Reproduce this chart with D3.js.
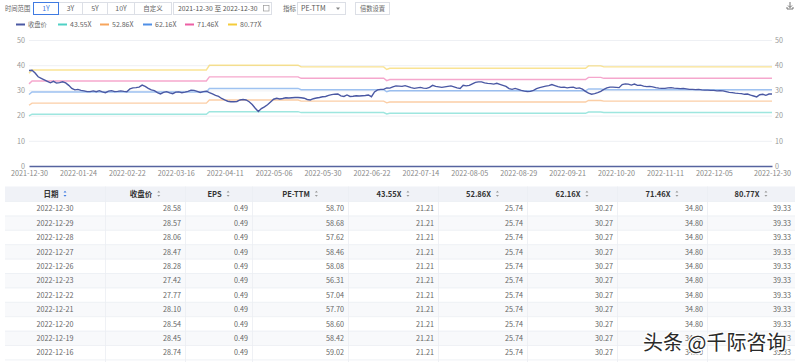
<!DOCTYPE html>
<html>
<head>
<meta charset="utf-8">
<script src="https://cdn.jsdelivr.net/npm/d3@7"></script>
<style>
  body { margin: 0; background: #fff; }
  text { font-family: "Noto Sans CJK SC", "Noto Sans", sans-serif; }
</style>
</head>
<body>
<svg id="chart" width="800" height="362"></svg>
<script>
// exchange holidays on weekdays, used to build the trading-day categories
var holidays = ["2022-01-03","2022-01-31","2022-02-01","2022-02-02","2022-02-03","2022-02-04",
  "2022-04-04","2022-04-05","2022-05-02","2022-05-03","2022-05-04","2022-06-03","2022-09-12",
  "2022-10-03","2022-10-04","2022-10-05","2022-10-06","2022-10-07"];

var xTicks = ["2021-12-30","2022-01-24","2022-02-22","2022-03-16","2022-04-11","2022-05-06",
  "2022-05-30","2022-06-22","2022-07-14","2022-08-05","2022-08-29","2022-09-21","2022-10-20",
  "2022-11-11","2022-12-05","2022-12-30"];
var yTicks = [0, 10, 20, 30, 40, 50];

// 收盘价, one per trading day
var closes = [
  37.9, 38.0, 36.9, 35.4, 34.8, 34.2, 33.6, 33.0, 33.6, 32.9,
  33.1, 33.4, 33.0, 32.0, 30.8, 30.2, 30.4, 30.0, 29.8, 29.5,
  29.5, 29.8, 29.5, 29.9, 29.4, 29.1, 29.7, 29.9, 29.5, 29.6,
  29.8, 29.6, 29.5, 30.6, 31.0, 31.1, 31.3, 32.1, 31.6, 30.8,
  30.2, 29.9, 29.1, 28.6, 29.2, 29.5, 29.0, 28.7, 29.3, 29.4,
  29.1, 29.3, 29.6, 30.1, 30.0, 29.6, 29.2, 29.5, 29.7, 29.1,
  28.6, 28.0, 27.6, 26.8, 26.2, 25.7, 25.5, 25.5, 25.6, 26.2,
  26.4, 26.2, 25.5, 24.4, 22.9, 21.6, 22.8, 23.5, 24.3, 25.4,
  26.5, 26.9, 26.6, 26.8, 27.1, 27.0, 27.1, 27.2, 27.2, 27.1,
  26.9, 26.4, 26.2, 26.7, 27.0, 27.2, 27.5, 27.6, 28.0, 28.3,
  28.5, 28.6, 27.8, 27.6, 28.2, 27.6, 27.7, 27.9, 27.8, 27.9,
  28.0, 28.2, 27.5, 29.4, 30.2, 30.4, 30.4, 31.0, 30.9, 31.4,
  31.8, 31.7, 31.6, 31.9, 31.5, 31.1, 30.8, 31.0, 31.2, 30.9,
  30.8, 31.2, 32.0, 31.6, 31.4, 31.2, 31.4, 31.6, 31.8, 31.4,
  31.0, 30.8, 32.0, 31.8, 32.0, 32.6, 33.2, 33.4, 33.4, 33.0,
  32.8, 32.7, 32.5, 32.8, 32.4, 32.0, 31.6, 30.7, 30.4, 30.8,
  30.4, 30.0, 29.7, 29.5, 29.6, 30.0, 30.7, 31.1, 31.4, 31.7,
  31.9, 32.3, 31.9, 31.5, 31.2, 31.3, 31.0, 31.2, 31.3, 30.8,
  31.0, 30.5, 29.6, 28.9, 28.5, 28.7, 29.1, 29.6, 30.4, 31.0,
  31.3, 31.3, 31.2, 31.1, 32.3, 32.6, 32.5, 32.1, 32.5, 32.0,
  32.1, 31.7, 31.5, 31.6, 31.4, 31.1, 30.9, 30.8, 30.8, 31.0,
  31.1, 30.9, 30.8, 30.7, 30.8, 30.6, 30.4, 30.4, 30.3, 30.4,
  30.2, 30.1, 30.1, 30.0, 30.0, 29.8, 29.9, 29.8, 29.5, 29.2,
  29.1, 28.9, 28.8, 28.74, 28.45, 28.54, 28.10, 27.77, 27.42, 28.28,
  28.47, 28.06, 28.57, 28.58
];

// EPS steps: trading-day index where each value starts
var epsStart = [0, 1, 59, 89, 117, 118, 183, 188];
var epsValue = [0.456, 0.472, 0.495, 0.487, 0.474, 0.480, 0.492, 0.48695];

var multiples = ["43.55X", "52.86X", "62.16X", "71.46X", "80.77X"];
var multValues = [43.55, 52.86, 62.16, 71.46, 80.77];
var multColors = ["#4fd1c5", "#f7a55c", "#4f8fe6", "#ec5fa4", "#f4cc3a"];

// PE-TTM shown in table, newest first
var peTTM = [58.70, 58.68, 57.62, 58.46, 58.08, 56.31, 57.04, 57.70, 58.60, 58.42, 59.02];

var closeColor = "#4a58a3";

// trading days
var dates = [];
var fmt = d3.timeFormat("%Y-%m-%d");
d3.timeDay.range(new Date(2021, 11, 30), new Date(2022, 11, 31)).forEach(function(d) {
  var wd = d.getDay();
  var s = fmt(d);
  if (wd !== 0 && wd !== 6 && holidays.indexOf(s) < 0) dates.push(s);
});

function epsAt(i) {
  var v = epsValue[0];
  for (var k = 0; k < epsStart.length; k++) if (i >= epsStart[k]) v = epsValue[k];
  return v;
}

var svg = d3.select("#chart");

// ---------- top controls ----------
var bar = svg.append("g");
bar.append("text").attr("x", 5).attr("y", 11).text("时间范围")
  .attr("font-size", 6.3).attr("fill", "#666");

var btns = [["1Y", 33.5, 25], ["3Y", 58.5, 24], ["5Y", 82.5, 25], ["10Y", 107.5, 27], ["自定义", 134.5, 37]];
btns.forEach(function(b, i) {
  bar.append("rect").attr("x", b[1]).attr("y", 2.5).attr("width", b[2]).attr("height", 12)
    .attr("fill", "#fff").attr("stroke", "#dcdfe6");
});
btns.forEach(function(b, i) {
  bar.append("text").attr("x", b[1] + b[2] / 2).attr("y", 11.2).attr("text-anchor", "middle")
    .text(b[0]).attr("font-size", i === 4 ? 6.5 : 7).attr("fill", i === 0 ? "#3f7be2" : "#666");
});
// active border on top
bar.append("rect").attr("x", 33.5).attr("y", 2.5).attr("width", 25).attr("height", 12)
  .attr("fill", "none").attr("stroke", "#3f7be2");

bar.append("rect").attr("x", 173.5).attr("y", 2.5).attr("width", 98).attr("height", 12)
  .attr("fill", "#fff").attr("stroke", "#dcdfe6");
bar.append("text").attr("x", 178).attr("y", 11.2).text("2021-12-30  至  2022-12-30")
  .attr("font-size", 6.8).attr("fill", "#555");
bar.append("rect").attr("x", 263.5).attr("y", 5.5).attr("width", 5.5).attr("height", 5.5)
  .attr("fill", "none").attr("stroke", "#999").attr("stroke-width", 0.7);

bar.append("text").attr("x", 283).attr("y", 11.2).text("指标")
  .attr("font-size", 6.5).attr("fill", "#666");
bar.append("rect").attr("x", 297.5).attr("y", 2.5).attr("width", 48).attr("height", 12)
  .attr("fill", "#fff").attr("stroke", "#dcdfe6");
bar.append("text").attr("x", 301).attr("y", 11.2).text("PE-TTM")
  .attr("font-size", 7).attr("fill", "#555");
bar.append("path").attr("d", "M336,7.5 L340,7.5 L338,10 Z").attr("fill", "#888");

bar.append("rect").attr("x", 355.5).attr("y", 2.5).attr("width", 34).attr("height", 12)
  .attr("fill", "#fff").attr("stroke", "#dcdfe6");
bar.append("text").attr("x", 372.5).attr("y", 11.2).attr("text-anchor", "middle").text("倍数设置")
  .attr("font-size", 6.3).attr("fill", "#666");

// download icon
bar.append("path").attr("d", "M790,2 L790,7.5 M788,5.5 L790,7.5 L792,5.5 M787,7 L787,9 L793,9 L793,7")
  .attr("fill", "none").attr("stroke", "#666").attr("stroke-width", 0.9);

// ---------- legend ----------
var legendItems = [{name: "收盘价", color: closeColor, x: 16}];
var legX = [58, 100, 143, 185, 228];
multiples.forEach(function(m, i) {
  legendItems.push({name: m, color: multColors[i], x: legX[i]});
});
var leg = svg.append("g").selectAll("g").data(legendItems).enter().append("g");
leg.append("line")
  .attr("x1", function(d) { return d.x; })
  .attr("x2", function(d) { return d.x + 9; })
  .attr("y1", 24.5).attr("y2", 24.5)
  .attr("stroke", function(d) { return d.color; })
  .attr("stroke-width", 2);
leg.append("text")
  .attr("x", function(d) { return d.x + 12; })
  .attr("y", 27)
  .text(function(d) { return d.name; })
  .attr("font-size", function(d, i) { return i === 0 ? 6.3 : 7; })
  .attr("fill", "#666");

// ---------- chart ----------
var x = d3.scalePoint().domain(dates).range([29, 772]);
var y = d3.scaleLinear().domain([0, 50]).range([166, 40]);

svg.append("g").selectAll("line").data(yTicks.slice(1)).enter().append("line")
  .attr("x1", 29).attr("x2", 772)
  .attr("y1", function(d) { return y(d) + 0.5; })
  .attr("y2", function(d) { return y(d) + 0.5; })
  .attr("stroke", "#eef0f4");

var yl = svg.append("g").attr("transform", "translate(25,0)")
  .call(d3.axisLeft(y).tickValues(yTicks).tickSize(0).tickPadding(0));
var yr = svg.append("g").attr("transform", "translate(775,0)")
  .call(d3.axisRight(y).tickValues(yTicks).tickSize(0).tickPadding(0));
[yl, yr].forEach(function(a) {
  a.select(".domain").remove();
  a.selectAll("text").attr("font-size", 7.2).attr("fill", "#999")
    .style("font-family", "'Noto Sans CJK SC', sans-serif");
});

var xa = svg.append("g").attr("transform", "translate(0,166)")
  .call(d3.axisBottom(x).tickValues(xTicks).tickSize(0).tickPadding(4.5));
xa.select(".domain").attr("stroke", "#56639f").attr("stroke-width", 1.6);
xa.selectAll("text").attr("font-size", 7.2).attr("fill", "#888")
  .style("font-family", "'Noto Sans CJK SC', sans-serif");

var line = d3.line()
  .x(function(d, i) { return x(dates[i]); })
  .y(function(d) { return y(d); });

multValues.forEach(function(m, k) {
  var vals = dates.map(function(d, i) { return epsAt(i) * m; });
  svg.append("path").datum(vals)
    .attr("d", line)
    .attr("fill", "none")
    .attr("stroke", multColors[k])
    .attr("stroke-opacity", 0.55)
    .attr("stroke-width", 1.4);
});

svg.append("path").datum(closes)
  .attr("d", line)
  .attr("fill", "none")
  .attr("stroke", closeColor)
  .attr("stroke-width", 1.4);

// ---------- table ----------
var colEdges = [5, 105, 185, 252, 348, 438, 527, 617, 707, 795];
var headers = ["日期", "收盘价", "EPS", "PE-TTM"].concat(multiples);
var headTop = 186.5, headH = 15, rowH = 14.4;

var tbl = svg.append("g");
tbl.append("rect").attr("x", 5).attr("y", headTop).attr("width", 790).attr("height", headH)
  .attr("fill", "#f0f2f7");

var rows = [];
for (var k = 0; k < peTTM.length; k++) {
  var idx = dates.length - 1 - k;
  var e = epsAt(idx);
  var r = [dates[idx], closes[idx].toFixed(2), e.toFixed(2), peTTM[k].toFixed(2)];
  multValues.forEach(function(m) { r.push((m * e).toFixed(2)); });
  rows.push(r);
}

tbl.selectAll("rect.row").data(rows).enter().append("rect")
  .attr("class", "row")
  .attr("x", 5).attr("width", 790)
  .attr("y", function(d, i) { return headTop + headH + i * rowH; })
  .attr("height", rowH)
  .attr("fill", function(d, i) { return i % 2 ? "#f8f9fb" : "#fff"; });

tbl.selectAll("line.h").data(d3.range(rows.length + 1)).enter().append("line")
  .attr("x1", 5).attr("x2", 795)
  .attr("y1", function(d) { return headTop + headH + d * rowH; })
  .attr("y2", function(d) { return headTop + headH + d * rowH; })
  .attr("stroke", "#ebedf2").attr("stroke-width", 0.8);

tbl.selectAll("line.v").data(colEdges.slice(1, -1)).enter().append("line")
  .attr("x1", function(d) { return d + 0.5; })
  .attr("x2", function(d) { return d + 0.5; })
  .attr("y1", headTop).attr("y2", 362)
  .attr("stroke", "#ebedf2").attr("stroke-width", 0.8);

headers.forEach(function(h, c) {
  var cx = (colEdges[c] + colEdges[c + 1]) / 2;
  var t = tbl.append("text").attr("x", cx - 4).attr("y", headTop + 10.3)
    .attr("text-anchor", "middle").text(h)
    .attr("font-size", 7.5).attr("font-weight", "bold").attr("fill", "#333");
  var w = t.node().getComputedTextLength();
  var ix = cx - 4 + w / 2 + 5;
  var col = c === 0 ? "#3f7be2" : "#999";
  tbl.append("path")
    .attr("d", "M" + ix + "," + (headTop + 6) + " l1.5,-1.8 l1.5,1.8 Z M" + ix + "," + (headTop + 8.5) + " l1.5,1.8 l1.5,-1.8 Z")
    .attr("fill", col);
});

rows.forEach(function(r, i) {
  var ty = headTop + headH + i * rowH + 9.8;
  r.forEach(function(v, c) {
    var t = tbl.append("text").attr("y", ty).text(v)
      .attr("font-size", 7.2).attr("fill", "#666");
    if (c === 0) t.attr("x", (colEdges[0] + colEdges[1]) / 2).attr("text-anchor", "middle");
    else t.attr("x", colEdges[c + 1] - 4).attr("text-anchor", "end");
  });
});

// watermark, drawn over the table like in the screenshot
svg.append("text").attr("x", 643).attr("y", 350).text("头条 @千际咨询")
  .attr("font-size", 20).attr("fill", "#2a2a2a")
  .attr("stroke", "#fff").attr("stroke-width", 2.5).attr("paint-order", "stroke");
</script>
</body>
</html>
